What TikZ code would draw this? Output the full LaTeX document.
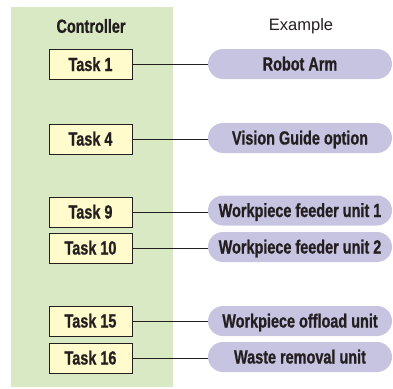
\documentclass[tikz,border=0pt]{standalone}
\usepackage{fontspec}
\setmainfont{Liberation Sans}
\newfontfamily\condbold[FakeStretch=0.76,FakeBold=0.8]{Liberation Sans Bold}
\usetikzlibrary{shapes.misc}
\definecolor{bggreen}{HTML}{D9E9C4}
\definecolor{taskyellow}{HTML}{FFFBCC}
\definecolor{pilllav}{HTML}{C7C4E2}
\definecolor{ink}{HTML}{231F20}
\begin{document}
\begin{tikzpicture}[x=1pt,y=-1pt,
  taskbox/.style={draw=ink, line width=0.9pt, fill=taskyellow, minimum width=83pt, minimum height=30pt, inner sep=0pt, text height=13pt, text depth=0pt, font=\condbold\fontsize{19}{21}\selectfont, text=ink},
  pill/.style={rounded rectangle, fill=pilllav, minimum width=184pt, minimum height=30pt, inner sep=0pt, text height=13pt, text depth=0pt, font=\condbold\fontsize{19}{21}\selectfont, text=ink},
  link/.style={draw=ink, line width=0.9pt},
  head/.style={inner sep=0pt, text=ink}]
\useasboundingbox (0,0) rectangle (393,388);
\fill[bggreen] (11,7) rectangle (173,387);
\node[head, font=\condbold\fontsize{19}{21}\selectfont] (ctl) at (91,26) {Controller};
\node[head, font=\fontsize{16.5}{18}\selectfont] (ex) at (301,26) {Example};
\node[taskbox] (t1) at (90.5,64.5) {Task 1};
\node[taskbox] (t4) at (90.5,139) {Task 4};
\node[taskbox] (t9) at (90.5,212) {Task 9};
\node[taskbox] (t10) at (90.5,248) {Task 10};
\node[taskbox] (t15) at (90.5,321) {Task 15};
\node[taskbox] (t16) at (90.5,358) {Task 16};
\node[pill] (p1) at (300,64) {Robot Arm};
\node[pill] (p4) at (300,138) {Vision Guide option};
\node[pill] (p9) at (300,210.5) {Workpiece feeder unit 1};
\node[pill] (p10) at (300,247) {Workpiece feeder unit 2};
\node[pill] (p15) at (300,321) {Workpiece offload unit};
\node[pill] (p16) at (300,357) {Waste removal unit};
\draw[link] (t1.east) -- (t1.east -| p1.west);
\draw[link] (t4.east) -- (t4.east -| p4.west);
\draw[link] (t9.east) -- (t9.east -| p9.west);
\draw[link] (t10.east) -- (t10.east -| p10.west);
\draw[link] (t15.east) -- (t15.east -| p15.west);
\draw[link] (t16.east) -- (t16.east -| p16.west);
\end{tikzpicture}
\end{document}
